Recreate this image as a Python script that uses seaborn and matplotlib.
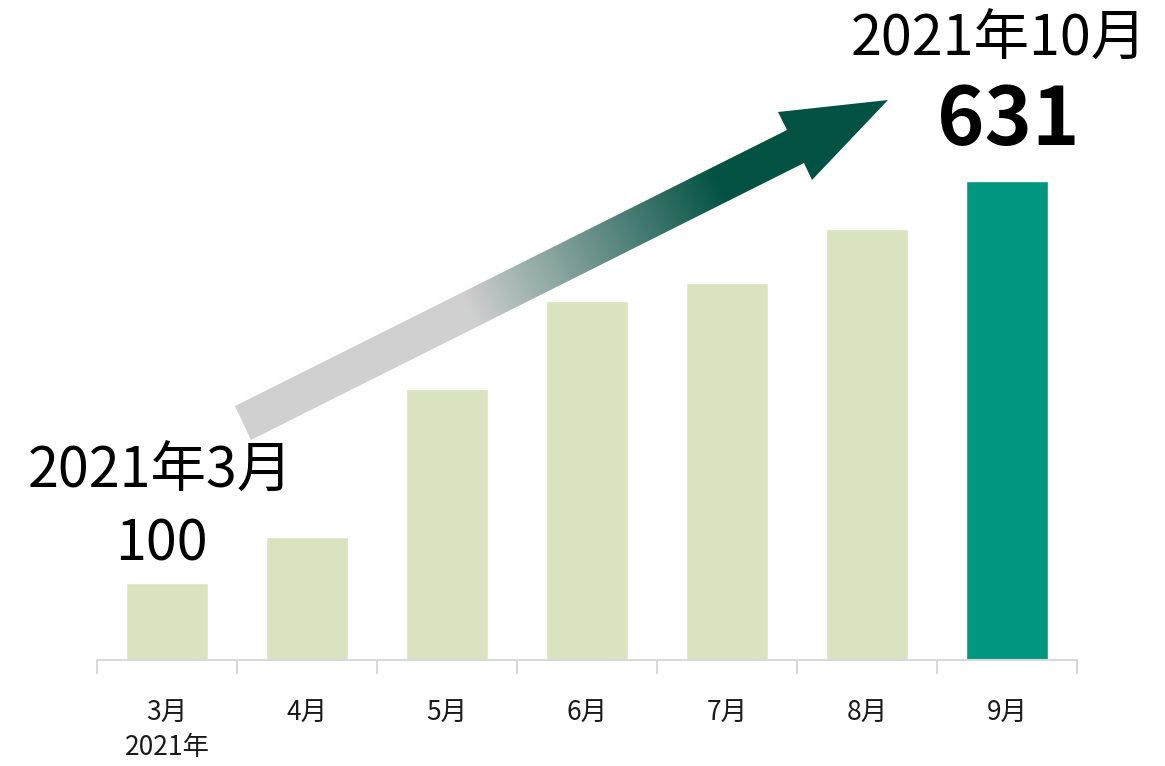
import numpy as np
import pandas as pd
import seaborn as sns
import matplotlib.pyplot as plt
from matplotlib.patches import Polygon
from matplotlib.colors import to_rgb

months = ["3月", "4月", "5月", "6月", "7月", "8月", "9月"]
values = [100, 160, 353, 468, 492, 562, 624]
tick_labels = ["3月\n2021年", "4月", "5月", "6月", "7月", "8月", "9月"]
start_label = "2021年3月"
start_value = "100"
end_label = "2021年10月"
end_value = "631"

light = "#d9e4bf"
dark = "#00967f"
bar_colors = [light] * 6 + [dark]

sns.set_style("white")
plt.rcParams["font.family"] = ["Noto Sans CJK JP", "DejaVu Sans"]

W, H = 1165, 766
fig = plt.figure(figsize=(W / 100, H / 100), dpi=100)

# bar axes: x from 97 to 1077 px, baseline at 660 px
ax = fig.add_axes([97 / W, (H - 660) / H, 980 / W, 537 / H])
df = pd.DataFrame({"month": months, "value": values})
sns.barplot(data=df, x="month", y="value", hue="month", palette=bar_colors,
            legend=False, width=0.586, saturation=1, ax=ax)
ax.set_xlim(-0.5, 6.5)
ax.set_ylim(0, 700)
ax.set_yticks([])
ax.set_xlabel("")
ax.set_ylabel("")
for s in ["left", "top", "right"]:
    ax.spines[s].set_visible(False)
ax.spines["bottom"].set_color("#d9d9d9")
ax.spines["bottom"].set_linewidth(1.5)
ax.set_xticks(range(len(months)))
ax.set_xticklabels(tick_labels, fontsize=19, linespacing=1.32, va="top",
                   color="#1a1a1a")
ax.tick_params(axis="x", which="major", length=0, pad=29)
ax.set_xticks(np.arange(-0.5, 7, 1), minor=True)
ax.tick_params(axis="x", which="minor", bottom=True, length=10, width=1.5,
               color="#d9d9d9", direction="out")

# overlay in pixel coords for arrow and callouts
ov = fig.add_axes([0, 0, 1, 1], facecolor="none")
ov.set_xlim(0, W)
ov.set_ylim(H, 0)
ov.axis("off")

arrow_pts = [(235, 406), (787, 130), (778, 112), (888, 100),
             (812, 180), (804, 163), (251, 440)]
patch = Polygon(arrow_pts, closed=True, facecolor="none", edgecolor="none")
ov.add_patch(patch)

x0, y0, x1, y1 = 243, 423, 888, 100
d = np.array([x1 - x0, y1 - y0], dtype=float)
L = np.hypot(*d)
u = d / L
yy, xx = np.mgrid[0:H, 0:W] + 0.5
s = ((xx - x0) * u[0] + (yy - y0) * u[1]) / L
t = np.clip((s - 0.35) / (0.74 - 0.35), 0, 1)[..., None]
c0 = np.array(to_rgb("#d0d0d0"))
c1 = np.array(to_rgb("#025244"))
img = c0 * (1 - t) + c1 * t
im = ov.imshow(img, extent=(0, W, H, 0), interpolation="bilinear", zorder=3)
im.set_clip_path(patch)
ov.set_xlim(0, W)
ov.set_ylim(H, 0)

ov.text(160, 472, start_label, fontsize=40, ha="center", va="center", color="black")
ov.text(161, 545, start_value, fontsize=40, ha="center", va="center", color="black")
ov.text(999, 40, end_label, fontsize=40, ha="center", va="center", color="black")
ov.text(1008, 122, end_value, fontsize=58, fontweight="bold", ha="center",
        va="center", color="black")

fig.savefig("out.png", dpi=100)
